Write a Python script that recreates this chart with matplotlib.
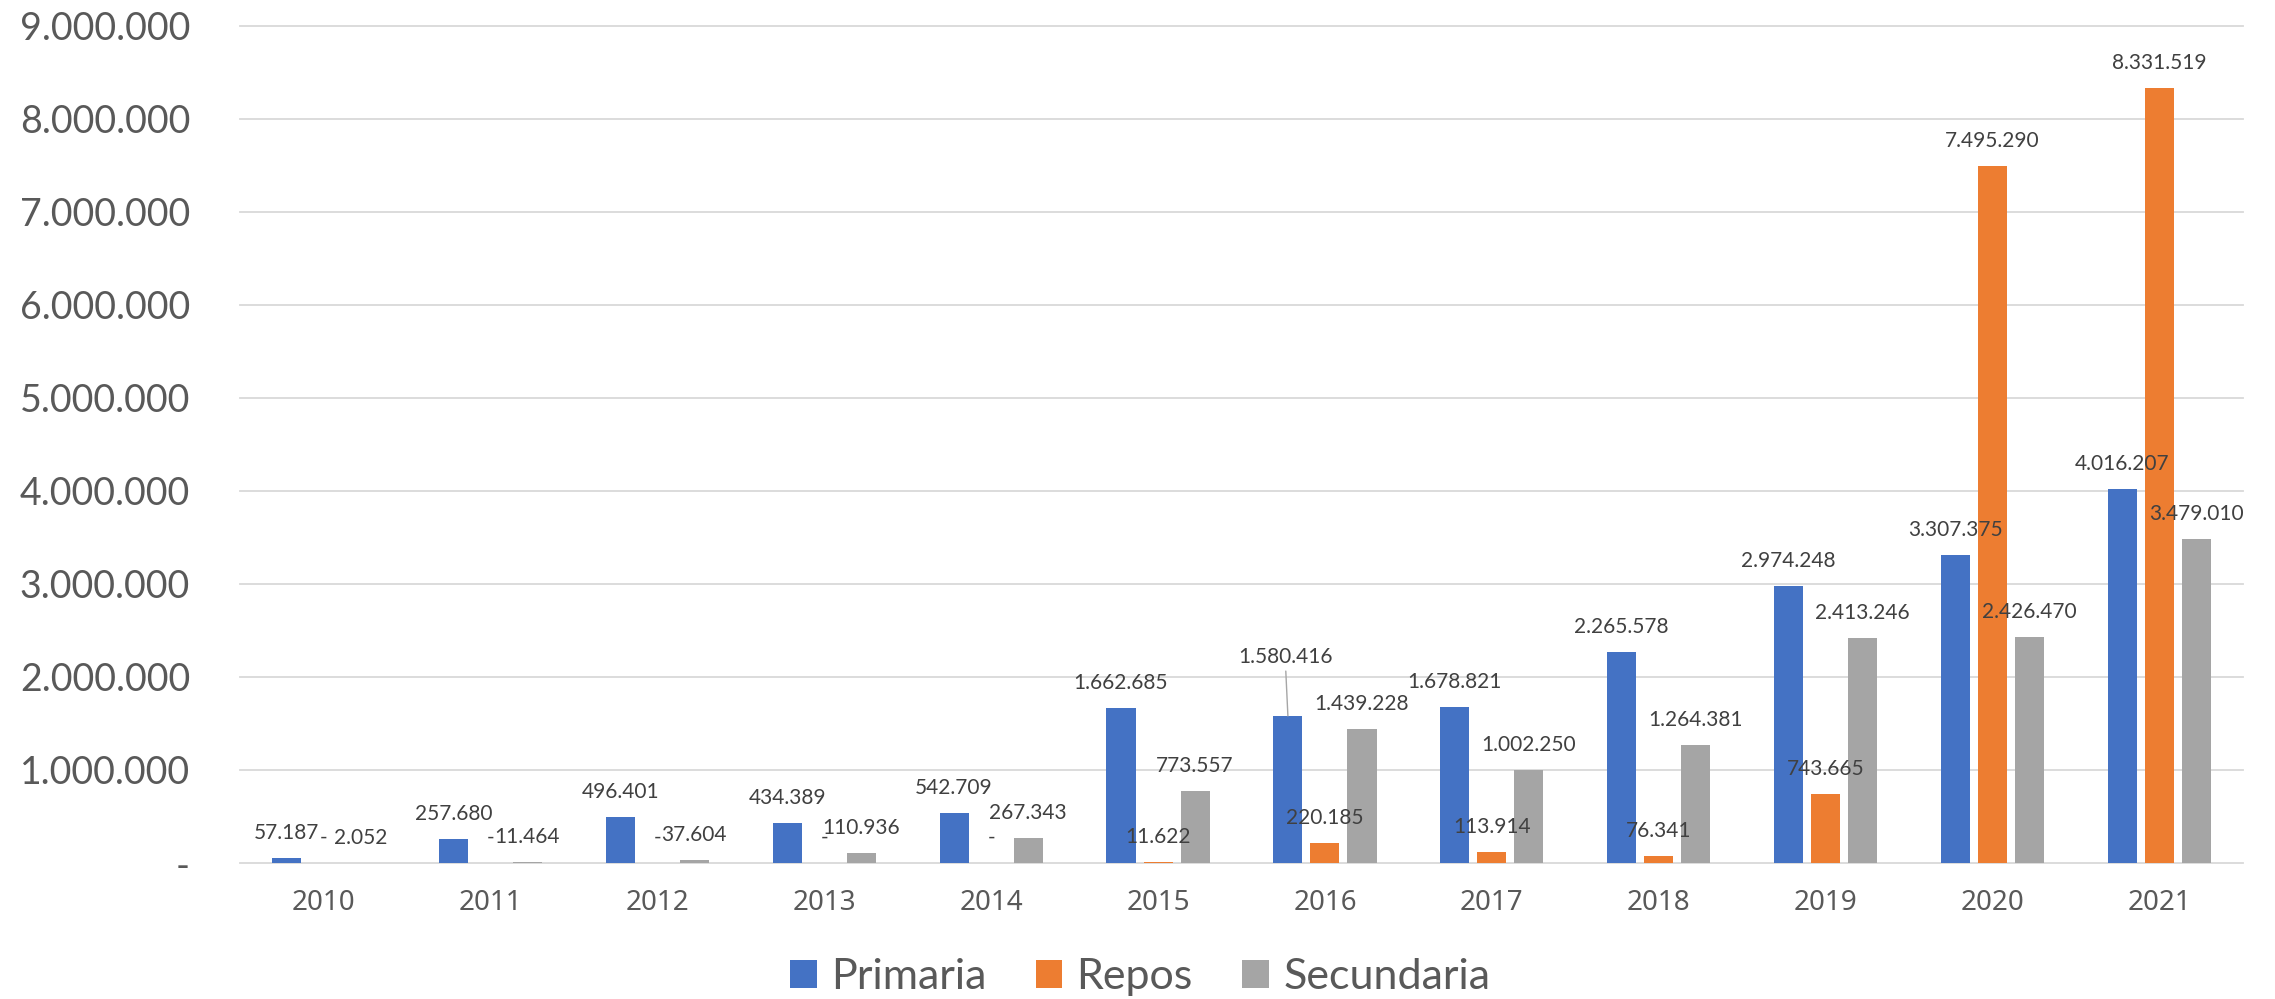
import matplotlib
matplotlib.use("Agg")
import matplotlib.pyplot as plt
from matplotlib.patches import Patch

years = ["2010", "2011", "2012", "2013", "2014", "2015",
         "2016", "2017", "2018", "2019", "2020", "2021"]
primaria = [57187, 257680, 496401, 434389, 542709, 1662685,
            1580416, 1678821, 2265578, 2974248, 3307375, 4016207]
repos = [0, 0, 0, 0, 0, 11622,
         220185, 113914, 76341, 743665, 7495290, 8331519]
secundaria = [2052, 11464, 37604, 110936, 267343, 773557,
              1439228, 1002250, 1264381, 2413246, 2426470, 3479010]
y_ticks = [0, 1000000, 2000000, 3000000, 4000000, 5000000,
           6000000, 7000000, 8000000, 9000000]

series = [
    ("Primaria", primaria, "#4472C4", -0.222),
    ("Repos", repos, "#ED7D31", 0.0),
    ("Secundaria", secundaria, "#A5A5A5", 0.222),
]


def fmt(v):
    if v == 0:
        return "-"
    return f"{v:,}".replace(",", ".")


W, H = 2275, 999
fig = plt.figure(figsize=(W / 100, H / 100), dpi=100)
ax = fig.add_axes([240 / W, (H - 863) / H, (2243 - 240) / W, (863 - 25.7) / H])

x = list(range(len(years)))
bar_w = 0.174

for name, vals, color, off in series:
    xs = [i + off for i in x]
    ax.bar(xs, vals, width=bar_w, color=color, zorder=2)
    for xi, v in zip(xs, vals):
        # the 2016 Primaria label was moved up in the original, with a leader line
        if name == "Primaria" and v == 1580416:
            ax.annotate(fmt(v), xy=(xi, v), xytext=(-2, 42.5),
                        textcoords="offset points", ha="center", va="center",
                        fontsize=15, family="Lato", color="#404040",
                        arrowprops=dict(arrowstyle="-", color="#A6A6A6",
                                        lw=1.0, shrinkA=1, shrinkB=0))
        else:
            ax.annotate(fmt(v), xy=(xi, v), xytext=(0, 18),
                        textcoords="offset points", ha="center", va="center",
                        fontsize=15, family="Lato", color="#404040")

ax.set_xlim(-0.5, len(years) - 0.5)
ax.set_ylim(0, 9000000)
ax.set_yticks(y_ticks)
ax.set_yticklabels([fmt(v) for v in y_ticks], family="Lato", fontsize=27,
                   color="#595959")
ax.set_xticks(x)
ax.set_xticklabels(years, family="Noto Sans", fontsize=20, color="#595959")
ax.tick_params(axis="y", length=0, pad=36)
ax.tick_params(axis="x", length=0, pad=19)

ax.grid(axis="y", color="#D9D9D9", linewidth=1.3, zorder=0)
for line in ax.get_ygridlines():
    line.set_clip_on(False)
ax.set_axisbelow(True)
for s in ax.spines.values():
    s.set_visible(False)

handles = [Patch(facecolor=c, label=n) for n, _, c, _ in series]
leg = fig.legend(handles=handles, loc="center",
                 bbox_to_anchor=(1140 / W, 1 - 977 / H), ncol=3, frameon=False,
                 prop={"family": "Lato", "size": 31},
                 handlelength=0.62, handleheight=0.62, handletextpad=0.33,
                 columnspacing=1.15)
for t in leg.get_texts():
    t.set_color("#595959")

fig.savefig("out.png", dpi=100)
plt.close()
